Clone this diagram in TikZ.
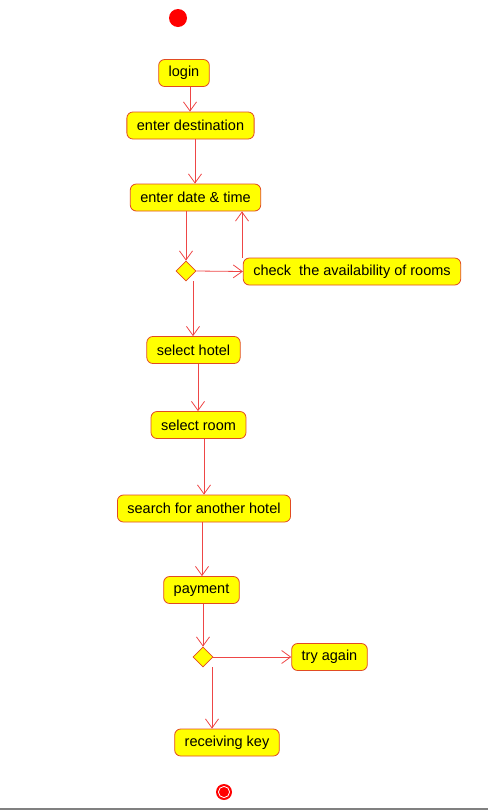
\documentclass[tikz,border=0pt]{standalone}
\usepackage{fontspec}
\setmainfont{Liberation Sans}
\usetikzlibrary{arrows.meta,shapes.geometric}

\definecolor{linea}{RGB}{238,70,70}
\definecolor{borde}{RGB}{225,75,35}
\definecolor{relleno}{RGB}{255,255,0}

\tikzset{
  actividad/.style={draw=borde, fill=relleno, rounded corners=6pt, thick,
    minimum height=27pt, inner xsep=10pt, inner ysep=0pt,
    font=\fontsize{14.5}{16}\selectfont},
  decision/.style={diamond, draw=borde, fill=relleno, thick, inner sep=0pt,
    minimum width=20pt, minimum height=20pt},
  flecha/.style={draw=linea, line width=0.8pt,
    -{Straight Barb[length=9pt, width=13pt, line width=0.8pt]}}
}

\begin{document}
\begin{tikzpicture}[x=1pt, y=-1pt]
        % Fija el tamaño del dibujo.
        \useasboundingbox (0,0) rectangle (488,812);

        % Nodos inicial y final.
        \node[circle, fill=red, inner sep=0pt, minimum size=18pt] (inicio) at (178,18) {};
        \node[circle, fill=red, inner sep=0pt, minimum size=16pt] (fin) at (224,792) {};
        \draw[white, line width=0.8pt] (fin) circle (5.6);

        % Actividades y decisiones.
        \node[actividad] (login) at (184,73) {login};
        \node[actividad] (destino) at (190.5,125.5) {enter destination};
        \node[actividad] (fecha) at (195.5,197.5) {enter date \& time};
        \node[decision] (dec1) at (186,271) {};
        \node[actividad] (revisar) at (352,271.5) {check\ \ the availability of rooms};
        \node[actividad] (hotel) at (193.5,350) {select hotel};
        \node[actividad] (cuarto) at (198.5,425) {select room};
        \node[actividad] (buscar) at (204,508.5) {search for another hotel};
        \node[actividad] (pago) at (201.5,590) {payment};
        \node[decision] (dec2) at (203,657) {};
        \node[actividad] (otra) at (329.5,657) {try again};
        \node[actividad] (llave) at (227,742.5) {receiving key};

        % Flujos entre actividades.
        \draw[flecha] (login.south -| 190,0) -- (destino.north -| 190,0);
        \draw[flecha] (destino.south -| 195,0) -- (fecha.north -| 195,0);
        \draw[flecha] (fecha.south -| dec1) -- (dec1.north);
        \draw[flecha] (dec1.east) -- (revisar.west);
        \draw[flecha] (revisar.north -| 242,0) -- (fecha.south -| 242,0);
        \draw[flecha] (dec1.south -| 193,0) -- (hotel.north -| 193,0);
        \draw[flecha] (hotel.south -| 198,0) -- (cuarto.north -| 198,0);
        \draw[flecha] (cuarto.south -| 204,0) -- (buscar.north -| 204,0);
        \draw[flecha] (buscar.south -| 202,0) -- (pago.north -| 202,0);
        \draw[flecha] (pago.south -| dec2) -- (dec2.north);
        \draw[flecha] (dec2.east) -- (otra.west);
        \draw[flecha] (dec2.south -| 212,0) -- (llave.north -| 212,0);

        % Borde inferior.
        \draw[gray, line width=2pt] (0,809) -- (488,809);
    \end{tikzpicture}
\end{document}
